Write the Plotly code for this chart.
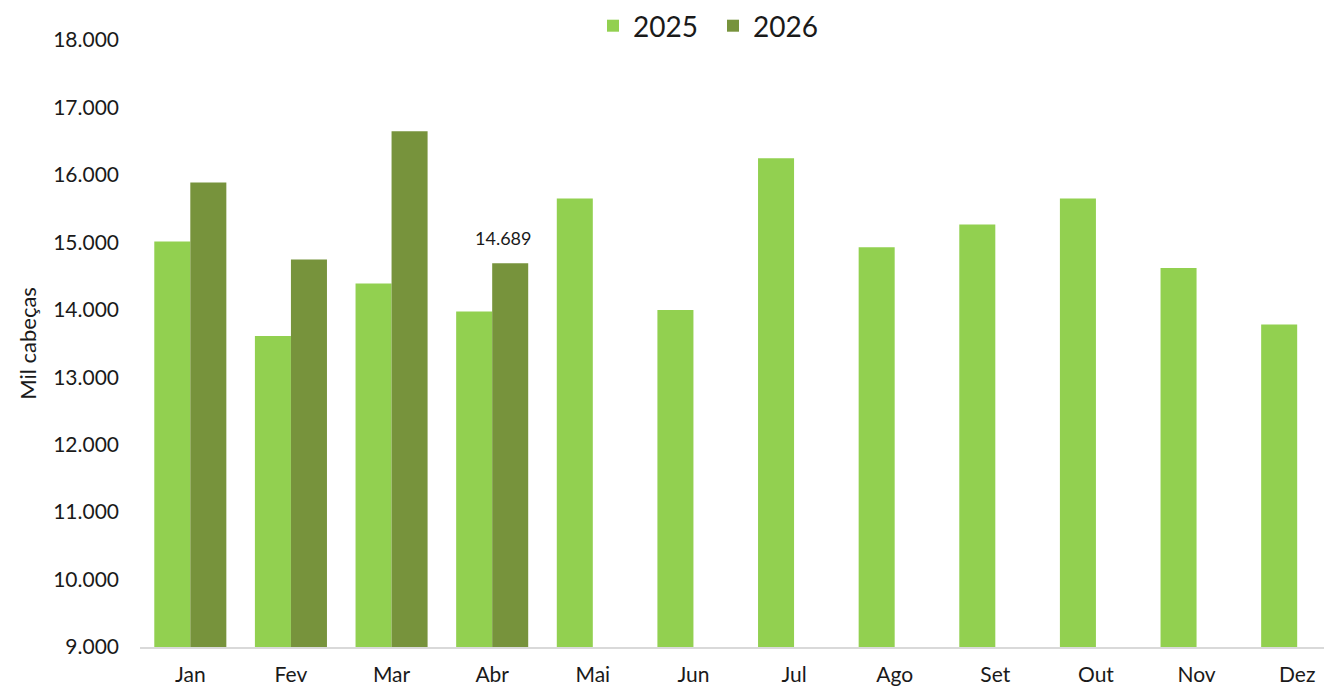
import plotly.graph_objects as go

months = ["Jan", "Fev", "Mar", "Abr", "Mai", "Jun", "Jul", "Ago", "Set", "Out", "Nov", "Dez"]
values_2025 = [15011, 13612, 14388, 13973, 15649, 13998, 16247, 14927, 15263, 15649, 14621, 13780]
values_2026 = [15886, 14744, 16648, 14689, None, None, None, None, None, None, None, None]
labelled_month = "Abr"

y_ticks = list(range(9000, 18001, 1000))

FONT = "Lato, Carlito, Calibri, sans-serif"
TXT = "#1a1a1a"
W, H = 1324, 681

fig = go.Figure()
fig.add_trace(go.Bar(name="2025", x=months, y=values_2025, marker_color="#92D050",
                     marker_line_width=0))
fig.add_trace(go.Bar(name="2026", x=months, y=values_2026, marker_color="#77933C",
                     marker_line_width=0))

idx = months.index(labelled_month)
lbl_val = values_2026[idx]
fig.add_annotation(x=labelled_month, y=lbl_val, xref="x", yref="y",
                   text=f"{lbl_val:,}".replace(",", "."), showarrow=False,
                   xanchor="center", yanchor="bottom", xshift=11, yshift=12,
                   font=dict(size=18, family=FONT, color=TXT))

fig.update_layout(
    width=W, height=H,
    margin=dict(l=132, r=0, t=32, b=42, autoexpand=False),
    paper_bgcolor="white", plot_bgcolor="white",
    barmode="group", bargap=0.284, bargroupgap=0,
    separators=",.",
    font=dict(family=FONT, size=21, color=TXT),
    showlegend=True,
    legend=dict(orientation="h", x=585 / W, xref="container", xanchor="left",
                y=1 - 18 / H, yref="container", yanchor="middle",
                font=dict(size=28, family=FONT, color=TXT),
                bgcolor="rgba(0,0,0,0)", traceorder="normal", itemwidth=30,
                entrywidth=75, entrywidthmode="pixels"),
    xaxis=dict(range=[-0.5, 11.346], showgrid=False, showline=True, linecolor="#d9d9d9",
               linewidth=2, ticks="", automargin=False, ticklabelstandoff=8,
               tickfont=dict(size=21, family=FONT, color=TXT)),
    yaxis=dict(range=[9000, 18000], tickvals=y_ticks, tickformat=",d", showgrid=False,
               showline=False, zeroline=False, ticks="", automargin=False,
               ticklabelstandoff=20,
               tickfont=dict(size=21, family=FONT, color=TXT),
               title=dict(text="Mil cabeças", font=dict(size=22, family=FONT, color=TXT),
                          standoff=10)),
)

fig.write_html("out.html")
